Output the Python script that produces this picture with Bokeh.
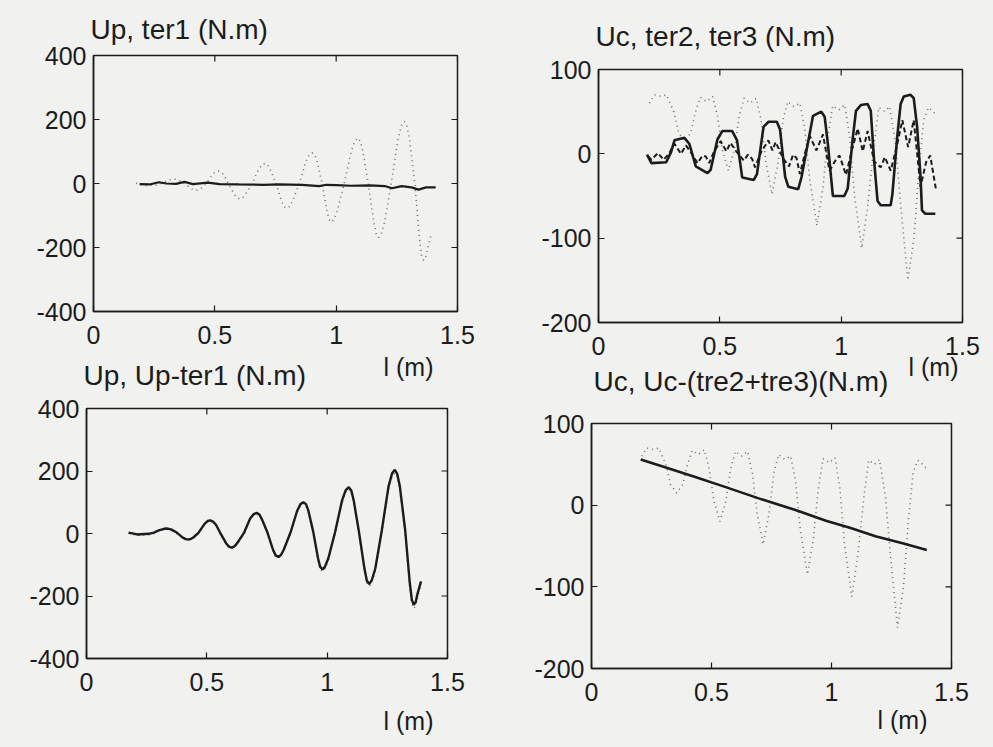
import math
from bokeh.plotting import figure
from bokeh.layouts import column, row
from bokeh.models import Range1d, FixedTicker, Title
from bokeh.embed import file_html
from bokeh.resources import INLINE

# Position along the beam (m) and the moments at each position (N.m)
l_up = [0.175, 0.21, 0.258, 0.28, 0.30, 0.322, 0.334, 0.346, 0.355, 0.375,
        0.40, 0.413, 0.424, 0.435, 0.445, 0.465, 0.49, 0.503, 0.514, 0.526,
        0.538, 0.555, 0.58, 0.592, 0.603, 0.615, 0.627, 0.655, 0.68, 0.695,
        0.707, 0.718, 0.728, 0.752, 0.775, 0.786, 0.797, 0.808, 0.82, 0.848,
        0.875, 0.889, 0.901, 0.912, 0.922, 0.942, 0.962, 0.971, 0.981, 0.991,
        1.005, 1.033, 1.062, 1.077, 1.09, 1.10, 1.11, 1.132, 1.155, 1.165,
        1.175, 1.186, 1.20, 1.227, 1.255, 1.27, 1.281, 1.291, 1.302, 1.324,
        1.343, 1.352, 1.36, 1.368, 1.375, 1.39]
up = [1, -6, -5, 0, 8, 13, 14, 12, 9, 0,
      -15, -20, -21, -19, -14, 0, 28, 37, 39, 36,
      26, 0, -34, -45, -48, -44, -33, 0, 45, 59,
      63, 58, 44, 0, -55, -73, -78, -72, -55, 0,
      68, 90, 96, 89, 68, 0, -85, -113, -121, -112,
      -85, 0, 100, 133, 142, 131, 100, 0, -120, -158,
      -169, -156, -120, 0, 140, 183, 194, 181, 140, 0,
      -170, -226, -240, -232, -207, -165]
up_minus_ter1 = [3, -3, -1, 3, 10, 15, 16, 14, 12, 3,
                 -13, -18, -19, -17, -12, 2, 30, 40, 42, 38,
                 28, 3, -31, -42, -45, -41, -30, 3, 48, 62,
                 66, 61, 47, 3, -52, -70, -75, -69, -51, 4,
                 72, 94, 100, 94, 73, 6, -79, -107, -115, -106,
                 -79, 5, 106, 139, 148, 138, 107, 6, -113, -151,
                 -162, -148, -112, 10, 151, 193, 204, 191, 151, 12,
                 -156, -213, -228, -219, -194, -153]

l_ter1 = [0.19, 0.23, 0.27, 0.30, 0.34, 0.375, 0.41, 0.47, 0.52, 0.60,
          0.70, 0.76, 0.86, 0.93, 0.96, 1.0, 1.06, 1.14, 1.20, 1.23,
          1.27, 1.31, 1.34, 1.37, 1.41]
ter1 = [-2, -3, 4, 0, -1, 5, -2, 3, -2, -3,
        -4, -3, -4, -8, -4, -5, -7, -6, -8, -15,
        -8, -12, -19, -12, -12]

l_uc = [0.21, 0.23, 0.26, 0.28, 0.31, 0.33, 0.355, 0.38, 0.40, 0.42,
        0.445, 0.47, 0.49, 0.51, 0.535, 0.56, 0.58, 0.60, 0.625, 0.65,
        0.67, 0.69, 0.715, 0.74, 0.76, 0.78, 0.805, 0.83, 0.85, 0.87,
        0.90, 0.925, 0.945, 0.965, 0.99, 1.015, 1.035, 1.055, 1.085, 1.11,
        1.135, 1.155, 1.18, 1.20, 1.225, 1.245, 1.275, 1.30, 1.32, 1.34,
        1.36, 1.38, 1.395]
uc = [60, 70, 68, 70, 50, 25, 15, 25, 50, 67,
      62, 68, 45, 5, -20, 5, 45, 66, 60, 66,
      40, -10, -48, -10, 40, 62, 56, 60, 30, -30,
      -85, -40, 20, 57, 52, 58, 20, -50, -112, -60,
      10, 55, 50, 56, 10, -60, -150, -100, -20, 40,
      55, 50, 45]

l_ter2 = [0.200, 0.218, 0.279, 0.299, 0.313, 0.354, 0.374, 0.401, 0.449, 0.462,
          0.490, 0.510, 0.551, 0.571, 0.592, 0.640, 0.653, 0.680, 0.701, 0.735,
          0.748, 0.769, 0.782, 0.823, 0.837, 0.871, 0.884, 0.918, 0.932, 0.946,
          0.959, 0.966, 1.013, 1.027, 1.048, 1.061, 1.082, 1.109, 1.122, 1.136,
          1.150, 1.163, 1.204, 1.211, 1.231, 1.245, 1.258, 1.286, 1.299, 1.313,
          1.327, 1.333, 1.347, 1.388]
ter2 = [-1, -11, -10, 2, 16, 19, 12, -15, -23, -19,
        17, 27, 27, 16, -28, -31, -24, 32, 38, 38,
        29, -27, -39, -42, -27, 25, 45, 50, 44, 10,
        -30, -50, -50, -41, 19, 51, 58, 59, 51, -9,
        -56, -61, -61, -48, 20, 59, 68, 70, 66, 32,
        -27, -67, -71, -71]

l_ter3 = [0.205, 0.218, 0.245, 0.268, 0.29, 0.313, 0.34, 0.36, 0.38, 0.408,
          0.429, 0.442, 0.456, 0.475, 0.503, 0.527, 0.544, 0.57, 0.599, 0.616,
          0.633, 0.645, 0.67, 0.70, 0.717, 0.73, 0.76, 0.785, 0.802, 0.816,
          0.83, 0.85, 0.871, 0.898, 0.925, 0.952, 0.98, 0.993, 1.02, 1.045,
          1.068, 1.089, 1.109, 1.136, 1.163, 1.18, 1.204, 1.23, 1.252, 1.276,
          1.299, 1.327, 1.35, 1.367, 1.39]
ter3 = [-3, -7, 1, -7, 0, 12, 0, 10, 2, -11,
        -2, -3, -11, 2, 15, 3, 13, 2, -8, -1,
        -6, -16, 2, 16, 4, 14, -5, -15, -1, -5,
        -24, 0, 21, 4, 23, -20, -6, -2, -25, 5,
        30, 3, 27, -9, -16, -4, -20, 10, 40, 8,
        40, -39, -10, -2, -41]

l_resid = [0.205, 0.30, 0.426, 0.55, 0.70, 0.85, 0.977, 1.08, 1.183, 1.30, 1.397]
uc_resid = [56, 47, 35, 23, 8, -6, -19, -28, -38, -47, -55]

x_ticks = [0, 0.5, 1, 1.5]
up_ticks = [-400, -200, 0, 200, 400]
uc_ticks = [-200, -100, 0, 100]

FONT = "Liberation Sans"
PAPER = "#f1f1ef"
INK = "#1c1c1c"
DOT = "#6e6e6e"


def panel(title, y_lim, y_ticks, width, height, left, right, top, bottom,
          title_standoff, title_offset, xlabel_offset, xlabel_standoff,
          overlap=0):
    p = figure(width=width, height=height,
               x_range=Range1d(0, 1.5), y_range=Range1d(*y_lim),
               output_backend="svg", toolbar_location=None,
               min_border_left=left, min_border_right=right,
               min_border_top=top, min_border_bottom=bottom)
    p.frame_align = False
    p.background_fill_color = PAPER
    if overlap:
        # lower panels tuck under the x labels of the panel above
        p.border_fill_color = None
        p.margin = (-overlap, 0, 0, 0)
    else:
        p.border_fill_color = PAPER
    p.outline_line_color = INK
    p.outline_line_width = 1.5
    p.grid.visible = False

    p.title.text = title
    p.title.text_font = FONT
    p.title.text_font_size = "28px"
    p.title.text_font_style = "normal"
    p.title.text_color = INK
    p.title.align = "left"
    p.title.offset = title_offset
    p.title.standoff = title_standoff

    for ax in (p.xaxis[0], p.yaxis[0]):
        ax.major_tick_in = 6
        ax.major_tick_out = 0
        ax.minor_tick_line_color = None
        ax.axis_line_color = INK
        ax.axis_line_width = 1.5
        ax.major_tick_line_color = INK
        ax.major_tick_line_width = 1.2
        ax.major_label_text_font = FONT
        ax.major_label_text_font_size = "25px"
        ax.major_label_text_color = INK
    p.xaxis[0].ticker = FixedTicker(ticks=x_ticks)
    p.yaxis[0].ticker = FixedTicker(ticks=y_ticks)
    p.yaxis[0].major_label_overrides = {t: str(t) for t in y_ticks}
    p.xaxis[0].major_label_standoff = 14
    p.yaxis[0].major_label_standoff = 7

    # inward tick marks along the top and right sides of the box
    p.scatter(x_ticks, [y_lim[1]] * len(x_ticks), marker="dash", size=12,
              angle=math.pi / 2, line_color=INK, line_width=1.2)
    p.scatter([1.5] * len(y_ticks), y_ticks, marker="dash", size=12,
              line_color=INK, line_width=1.2)

    p.add_layout(Title(text="l (m)", text_font=FONT, text_font_size="25px",
                       text_font_style="normal", text_color=INK,
                       align="left", offset=xlabel_offset,
                       standoff=xlabel_standoff), "below")
    return p


p1 = panel("Up, ter1 (N.m)", (-400, 400), up_ticks, 497, 385, 93, 40, 55, 74,
           22, -3, 290, 8)
p1.line(l_up, up, line_color=DOT, line_width=1.6, line_dash="1 4")
p1.line(l_ter1, ter1, line_color=INK, line_width=2.2)

p3 = panel("Up, Up-ter1 (N.m)", (-400, 400), up_ticks, 497, 408, 86, 50, 69, 89,
           36, -3, 297, 23, overlap=46)
p3.line(l_up, up, line_color=DOT, line_width=1.6, line_dash="1 4")
p3.line(l_up, up_minus_ter1, line_color=INK, line_width=2.4)

p2 = panel("Uc, ter2, ter3 (N.m)", (-200, 100), uc_ticks, 496, 386, 101, 31, 69, 64,
           36, -3, 310, -14)
p2.line(l_uc, uc, line_color=DOT, line_width=1.6, line_dash="1 4")
p2.line(l_ter3, ter3, line_color=INK, line_width=2.0, line_dash="5 3")
p2.line(l_ter2, ter2, line_color=INK, line_width=2.6)

p4 = panel("Uc, Uc-(tre2+tre3)(N.m)", (-200, 100), uc_ticks, 496, 410, 94, 42, 86, 79,
           53, 2, 286, 0, overlap=49)
p4.line(l_uc, uc, line_color=DOT, line_width=1.6, line_dash="1 4")
p4.line(l_resid, uc_resid, line_color=INK, line_width=2.6)

layout = row(column(p1, p3), column(p2, p4))
layout.styles = {"background-color": PAPER}

open("out.html", "w").write(file_html(layout, INLINE))
